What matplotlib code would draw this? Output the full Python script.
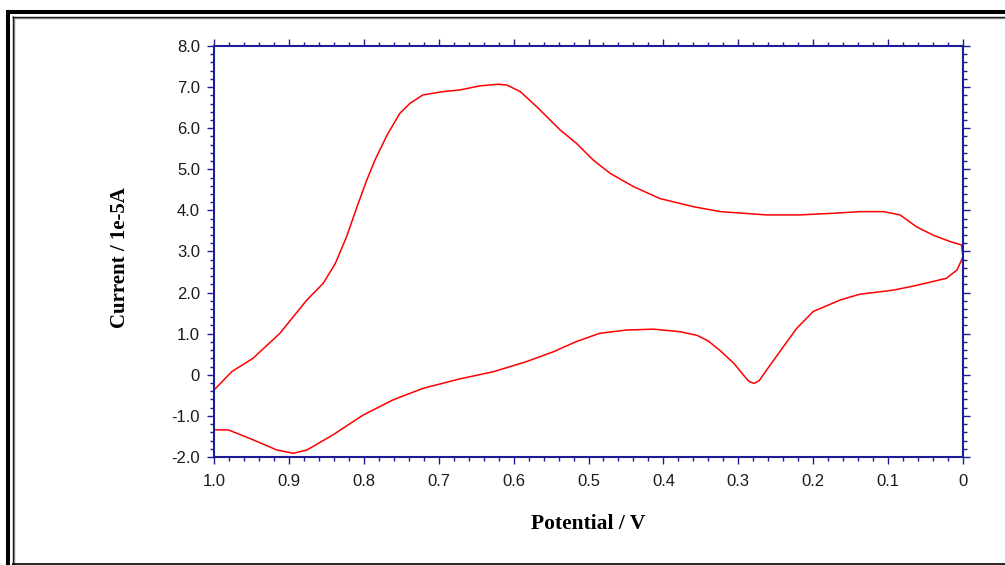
import matplotlib
matplotlib.use("Agg")
import matplotlib.pyplot as plt
from matplotlib.lines import Line2D
from matplotlib.ticker import MultipleLocator, FixedLocator, FixedFormatter

# forward scan (1.0 V -> 0 V)
fwd_v = [1.000, 0.976, 0.948, 0.912, 0.876, 0.854, 0.838, 0.823, 0.809, 0.796,
         0.785, 0.769, 0.752, 0.738, 0.721, 0.694, 0.672, 0.645, 0.620, 0.609,
         0.591, 0.569, 0.538, 0.516, 0.494, 0.471, 0.440, 0.405, 0.360, 0.324,
         0.262, 0.218, 0.173, 0.138, 0.106, 0.084, 0.062, 0.040, 0.017, 0.002,
         0.000]
fwd_i = [-0.37, 0.08, 0.40, 1.01, 1.82, 2.23, 2.71, 3.36, 4.09, 4.74,
         5.23, 5.83, 6.36, 6.61, 6.81, 6.89, 6.93, 7.03, 7.07, 7.05,
         6.89, 6.52, 5.96, 5.63, 5.23, 4.90, 4.58, 4.29, 4.09, 3.97,
         3.89, 3.89, 3.93, 3.97, 3.97, 3.89, 3.60, 3.40, 3.24, 3.16,
         2.87]
# reverse scan (0 V -> 1.0 V)
rev_v = [0.008, 0.022, 0.040, 0.066, 0.093, 0.138, 0.164, 0.200, 0.222, 0.240,
         0.262, 0.272, 0.279, 0.286, 0.292, 0.306, 0.325, 0.340, 0.355, 0.378,
         0.413, 0.449, 0.485, 0.516, 0.547, 0.583, 0.627, 0.672, 0.721, 0.761,
         0.801, 0.841, 0.876, 0.894, 0.916, 0.952, 0.981, 1.000]
rev_i = [2.55, 2.35, 2.27, 2.16, 2.06, 1.96, 1.82, 1.54, 1.13, 0.68,
         0.12, -0.14, -0.21, -0.16, -0.03, 0.28, 0.60, 0.82, 0.96, 1.05,
         1.11, 1.09, 1.01, 0.81, 0.56, 0.32, 0.075, -0.10, -0.33, -0.61,
         -0.98, -1.46, -1.83, -1.91, -1.83, -1.55, -1.34, -1.34]

x_ticks = [1.0, 0.9, 0.8, 0.7, 0.6, 0.5, 0.4, 0.3, 0.2, 0.1, 0.0]
x_labels = ["1.0", "0.9", "0.8", "0.7", "0.6", "0.5", "0.4", "0.3", "0.2", "0.1", "0"]
y_ticks = [-2, -1, 0, 1, 2, 3, 4, 5, 6, 7, 8]
y_labels = ["-2.0", "-1.0", "0", "1.0", "2.0", "3.0", "4.0", "5.0", "6.0", "7.0", "8.0"]

W, H = 1005, 565
fig = plt.figure(figsize=(W / 100, H / 100), dpi=100, facecolor="white")

# window frame
def hline(y, x0, x1, lw, c="black"):
    fig.add_artist(Line2D([x0 / W, x1 / W], [1 - y / H, 1 - y / H], lw=lw, color=c,
                          transform=fig.transFigure, solid_capstyle="butt"))

def vline(x, y0, y1, lw, c="black"):
    fig.add_artist(Line2D([x / W, x / W], [1 - y0 / H, 1 - y1 / H], lw=lw, color=c,
                          transform=fig.transFigure, solid_capstyle="butt"))

hline(12, 6, W, 2.9)
vline(8, 10, H, 2.9)
hline(16.5, 12, W, 1.0)
vline(12.5, 16, H, 1.0)
hline(18.3, 14, W, 1.0, "#808080")
vline(14.3, 18, H, 1.0, "#808080")
hline(563.5, 12, W, 1.2)

navy = "#1c1c96"
ax = fig.add_axes([214 / W, 1 - 457 / H, (963 - 214) / W, (457 - 46) / H])
ax.plot(fwd_v + rev_v, fwd_i + rev_i, color="#ff0000", lw=1.1)

ax.set_xlim(1.0, 0.0)
ax.set_ylim(-2.0, 8.0)
ax.xaxis.set_major_locator(FixedLocator(x_ticks))
ax.xaxis.set_major_formatter(FixedFormatter(x_labels))
ax.xaxis.set_minor_locator(MultipleLocator(0.02))
ax.yaxis.set_major_locator(FixedLocator(y_ticks))
ax.yaxis.set_major_formatter(FixedFormatter(y_labels))
ax.yaxis.set_minor_locator(MultipleLocator(0.2))

for s in ax.spines.values():
    s.set_color(navy)
    s.set_linewidth(1.5)

ax.tick_params(which="both", direction="out", color=navy, width=1.0,
               top=True, right=True, labeltop=False, labelright=False)
ax.tick_params(which="major", length=5)
ax.tick_params(which="minor", length=3)
ax.tick_params(axis="x", which="major", pad=7, labelsize=12, labelcolor="#1a1a1a")
ax.tick_params(axis="y", which="major", pad=5, labelsize=12, labelcolor="#1a1a1a")
for lab in ax.get_xticklabels() + ax.get_yticklabels():
    lab.set_fontfamily("Liberation Sans")

ax.set_xlabel("Potential / V", fontfamily="Liberation Serif", fontweight="bold",
              fontsize=15.5)
ax.set_ylabel("Current / 1e-5A", fontfamily="Liberation Serif", fontweight="bold",
              fontsize=15)
ax.xaxis.set_label_coords(0.5, (457 - 514) / 411)
ax.yaxis.set_label_coords((130 - 214) / 749, (457 - 258) / 411)

fig.savefig("out.png", dpi=100, facecolor="white")
